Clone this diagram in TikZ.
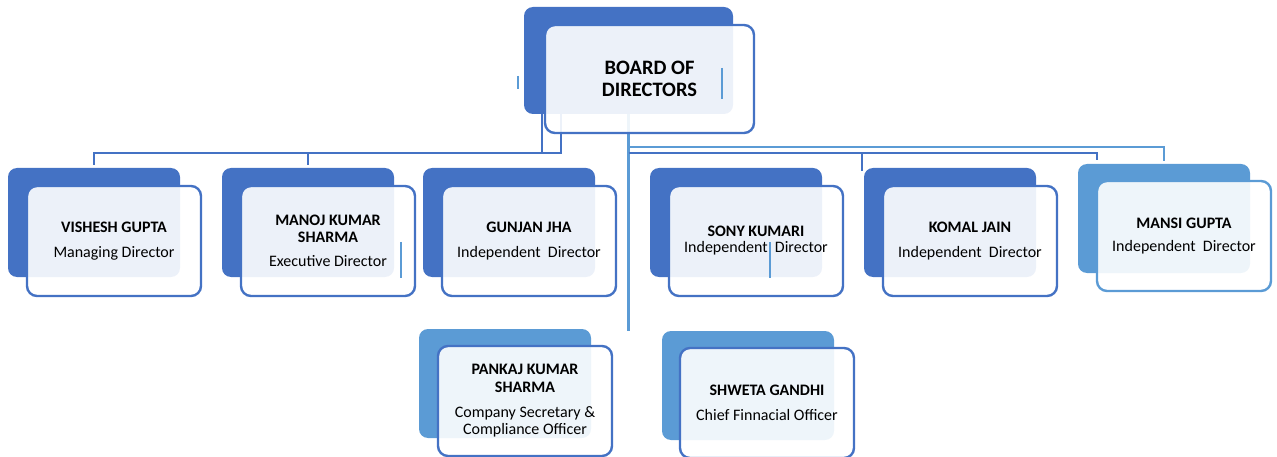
\documentclass[tikz,border=0pt]{standalone}
\usepackage{fontspec}
\setmainfont{Carlito}
\definecolor{accentA}{HTML}{4472C4}
\definecolor{accentB}{HTML}{5B9BD5}

\begin{document}
\begin{tikzpicture}[x=1pt, y=-1pt,
    back/.style={rectangle, rounded corners=9pt, fill=accentA, minimum width=172pt,
        minimum height=109pt, inner sep=0pt, outer sep=0pt, anchor=north west},
    front/.style={rectangle, rounded corners=10pt, draw=accentA, line width=2.4pt,
        fill=white, fill opacity=0.9, text opacity=1, minimum width=174pt,
        minimum height=110pt, inner sep=2pt, outer sep=0pt, anchor=north west,
        align=center, font={\fontsize{16}{17.5}\selectfont}},
    link/.style={draw=accentA, line width=2.4pt},
    linklt/.style={draw=accentB, line width=2.4pt},
    caret/.style={draw=accentB, line width=2.2pt}]
    \useasboundingbox (0,0) rectangle (1277,457);
    \node[back, minimum width=209pt, minimum height=107pt] (bod-b) at (524,7) {};
    \node[back] (vg-b) at (8,168) {};
    \node[back] (mk-b) at (222,168) {};
    \node[back] (gj-b) at (423,168) {};
    \node[back] (sk-b) at (650,168) {};
    \node[back] (kj-b) at (864,168) {};
    \node[back, fill=accentB] (mg-b) at (1078,164) {};
    \node[back, fill=accentB] (pk-b) at (419,329) {};
    \node[back, fill=accentB] (sg-b) at (662,331) {};
    \coordinate (bus1) at (0,153);
    \coordinate (bus2) at (0,147);
    \coordinate (tapA) at ([xshift=18pt]bod-b.south west);
    \coordinate (tapB) at ([xshift=37pt]bod-b.south west);
    \draw[link] (tapA) -- (tapA |- bus1) -| ([yshift=3pt]vg-b.north);
    \draw[link] (tapB) -- (tapB |- bus1) -| ([yshift=3pt]mk-b.north);
    \draw[linklt] (bod-b.south) -- (bod-b.south |- sg-b.north);
    \draw[linklt] (bod-b.south |- bus2) -| ([yshift=3pt]mg-b.north);
    \draw[link] (bod-b.south |- bus1) -| ([xshift=-2pt, yshift=-3pt]kj-b.north west);
    \draw[link] (bod-b.south |- bus1) -| ([xshift=19pt, yshift=4pt]mg-b.north west);
    \node[front, minimum width=209pt, minimum height=108pt,
        font={\fontsize{20.5}{22}\selectfont\bfseries}] (bod) at (545,25) {BOARD OF\\DIRECTORS};
    \node[front] (vg) at (27,186) {\textbf{VISHESH GUPTA}\\[7.5pt]Managing Director};
    \node[front] (mk) at (241,186) {\textbf{MANOJ KUMAR}\\\textbf{SHARMA}\\[6.5pt]Executive Director};
    \node[front] (gj) at (442,186) {\textbf{GUNJAN JHA}\\[7.5pt]Independent~~Director};
    \node[front] (sk) at (669,186) {\textbf{SONY KUMARI}\\[-1.5pt]Independent~~Director};
    \node[front] (kj) at (883,186) {\textbf{KOMAL JAIN}\\[7.5pt]Independent~~Director};
    \node[front, draw=accentB] (mg) at (1097,181) {\textbf{MANSI GUPTA}\\[5.5pt]Independent~~Director};
    \node[front] (pk) at (438,346) {\textbf{PANKAJ KUMAR}\\\textbf{SHARMA}\\[7.5pt]Company Secretary \&\\Compliance Officer};
    \node[front] (sg) at (680,348) {\textbf{SHWETA GANDHI}\\[7.5pt]Chief Finnacial Officer};
    \draw[caret] (518,76) -- (518,89);
    \draw[caret] (722,68) -- (722,99);
    \draw[caret] (401,242) -- (401,278);
    \draw[caret] (770,242) -- (770,278);
\end{tikzpicture}
\end{document}
